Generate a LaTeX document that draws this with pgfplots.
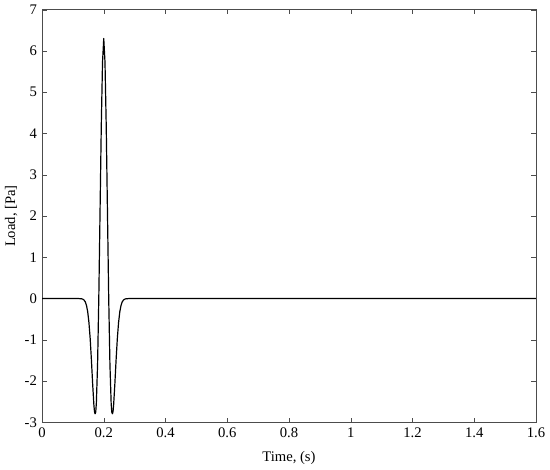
\documentclass[border=0pt]{standalone}
\usepackage{pgfplots}
\pgfplotsset{compat=1.18}
\usepackage{fontspec}
\setmainfont{Liberation Serif}
\begin{document}
\fontsize{11pt}{13pt}\selectfont
\begin{tikzpicture}
\begin{axis}[
    scale only axis,
    width=371pt,
    height=310pt,
    xmin=0, xmax=1.6,
    ymin=-3, ymax=7,
    xtick={0,0.2,...,1.6},
    ytick={-3,-2,...,7},
    xlabel={Time, (s)},
    ylabel={Load, [Pa]},
    axis line style={draw=black!70},
    tick style={draw=black!70},
    major tick length=3.5pt,
    tick align=inside,
    /pgf/number format/assume math mode=true,
    ticklabel style={font=\fontsize{11pt}{13pt}\selectfont},
    label style={font=\fontsize{11pt}{13pt}\selectfont},
    xlabel style={yshift=-3pt},
    ylabel style={yshift=-2pt},
]
% Load pulse, sampled about every 0.004 s
\addplot[black, line width=0.9pt, line join=round] coordinates {
    (0,0) (0.100,0) (0.120,0) (0.128,-0.005) (0.132,-0.014) (0.136,-0.034)
    (0.140,-0.077) (0.144,-0.163) (0.148,-0.319) (0.152,-0.579)
    (0.156,-0.967) (0.160,-1.481) (0.164,-2.062) (0.168,-2.575)
    (0.170,-2.742) (0.172,-2.790) (0.174,-2.752) (0.176,-2.540)
    (0.180,-1.591) (0.184,0.037)
    (0.188,2.111) (0.192,4.188) (0.196,5.730) (0.200,6.300)
    (0.204,5.730) (0.208,4.188) (0.212,2.111) (0.216,0.037)
    (0.220,-1.591) (0.224,-2.540) (0.226,-2.752) (0.228,-2.790)
    (0.230,-2.742) (0.232,-2.575)
    (0.236,-2.062) (0.240,-1.481) (0.244,-0.967) (0.248,-0.579)
    (0.252,-0.319) (0.256,-0.163) (0.260,-0.077) (0.264,-0.034)
    (0.268,-0.014) (0.272,-0.005) (0.280,0) (0.300,0) (1.6,0)
};
\end{axis}
\end{tikzpicture}
\end{document}
